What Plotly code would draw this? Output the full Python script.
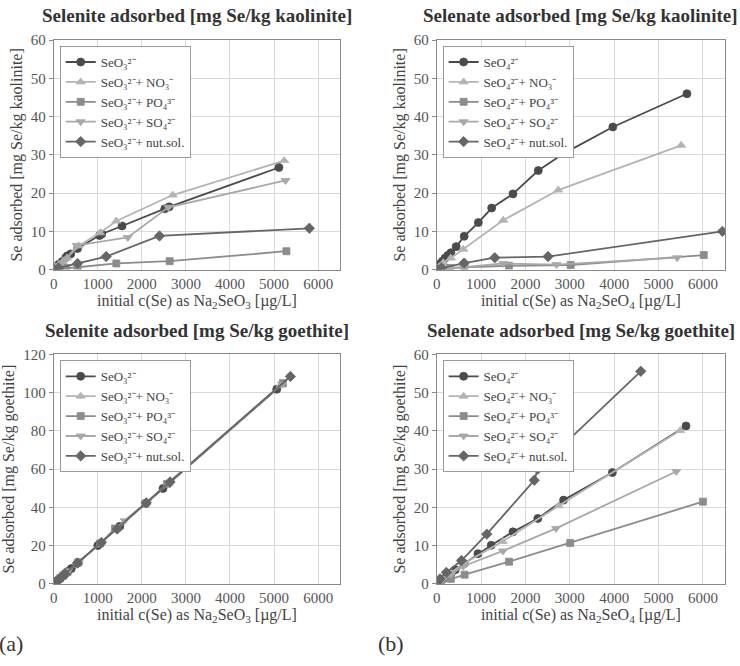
import plotly.graph_objects as go

# ---- Selenite on kaolinite ----
k3_se_x = [0, 60, 115, 190, 270, 310, 385, 540, 1040, 1090, 1550, 2520, 2620, 5110]
k3_se_y = [0.2, 0.8, 1.4, 2.1, 3.1, 3.6, 4.1, 5.5, 8.9, 9.3, 11.4, 15.9, 16.4, 26.7]
k3_no3_x = [0, 60, 120, 200, 300, 560, 1050, 1420, 2700, 5230]
k3_no3_y = [0.1, 0.6, 1.2, 2.0, 3.0, 6.2, 9.6, 12.7, 19.5, 28.5]
k3_po4_x = [0, 100, 280, 540, 1420, 2630, 5280]
k3_po4_y = [0.0, 0.2, 0.4, 0.6, 1.6, 2.2, 4.8]
k3_so4_x = [0, 50, 110, 190, 280, 520, 1680, 2600, 5260]
k3_so4_y = [0.1, 0.5, 1.1, 1.8, 2.7, 6.3, 8.4, 16.3, 23.3]
k3_nut_x = [0, 110, 540, 1190, 2400, 5800]
k3_nut_y = [0.0, 0.4, 1.6, 3.4, 8.8, 10.8]

# ---- Selenate on kaolinite ----
k4_se_x = [0, 40, 80, 130, 190, 250, 320, 440, 620, 940, 1240, 1720, 2290, 2870, 3970, 5640]
k4_se_y = [0.2, 0.8, 1.5, 2.2, 3.0, 3.7, 4.4, 6.0, 8.7, 12.3, 16.1, 19.8, 25.9, 30.4, 37.3, 46.0]
k4_no3_x = [0, 60, 150, 320, 600, 1500, 2740, 5510]
k4_no3_y = [0.1, 0.8, 1.8, 3.0, 5.3, 12.9, 20.8, 32.5]
k4_po4_x = [0, 100, 300, 620, 1630, 3020, 6020]
k4_po4_y = [0.0, 0.2, 0.4, 0.6, 1.0, 1.2, 3.8]
k4_so4_x = [0, 100, 300, 620, 1500, 2700, 5420]
k4_so4_y = [0.0, 0.2, 0.4, 0.6, 1.6, 1.3, 3.1]
k4_nut_x = [0, 110, 620, 1310, 2510, 6440]
k4_nut_y = [0.0, 0.4, 1.7, 3.1, 3.4, 10.0]

# ---- Selenite on goethite ----
g3_se_x = [0, 30, 60, 100, 150, 200, 260, 320, 400, 540, 1000, 1500, 2090, 2480, 5060]
g3_se_y = [0, 0.6, 1.2, 2.0, 3.0, 4.0, 5.3, 6.5, 8.0, 10.8, 20.0, 30.1, 42.1, 49.9, 101.8]
g3_no3_x = [0, 60, 120, 200, 300, 550, 1070, 1420, 2100, 2600, 5150]
g3_no3_y = [0, 1.2, 2.4, 4.0, 6.0, 11.1, 21.3, 28.4, 42.5, 52.3, 104.0]
g3_po4_x = [0, 70, 140, 220, 310, 560, 1050, 1390, 2080, 2570, 5200]
g3_po4_y = [0, 1.4, 2.8, 4.4, 6.2, 11.3, 21.1, 28.9, 42.0, 52.3, 105.0]
g3_so4_x = [0, 80, 160, 240, 320, 570, 1090, 1610, 2120, 2630, 5180]
g3_so4_y = [0, 1.6, 3.2, 4.8, 6.4, 11.5, 21.9, 33.0, 42.8, 52.9, 104.5]
g3_nut_x = [0, 50, 110, 180, 260, 540, 1080, 1440, 2100, 2640, 5370]
g3_nut_y = [0, 1.0, 2.2, 3.6, 5.2, 10.9, 21.6, 28.7, 42.4, 53.3, 108.5]

# ---- Selenate on goethite ----
g4_se_x = [0, 40, 90, 150, 230, 330, 420, 620, 930, 1230, 1720, 2280, 2860, 3960, 5620]
g4_se_y = [0.2, 0.5, 0.9, 1.3, 1.9, 2.8, 3.7, 5.3, 7.9, 10.1, 13.6, 17.1, 21.9, 29.1, 41.3]
g4_no3_x = [0, 60, 150, 320, 620, 1490, 2750, 5490]
g4_no3_y = [0.2, 0.6, 1.4, 2.9, 5.4, 11.1, 20.4, 40.1]
g4_po4_x = [0, 100, 320, 630, 1630, 3010, 6000]
g4_po4_y = [0, 0.4, 1.3, 2.4, 5.8, 10.7, 21.5]
g4_so4_x = [0, 100, 320, 600, 1495, 2690, 5400]
g4_so4_y = [0, 0.8, 2.5, 4.6, 8.6, 14.5, 29.4]
g4_nut_x = [0, 75, 220, 560, 1130, 2200, 2280, 4600]
g4_nut_y = [0, 1.3, 3.0, 6.1, 13.0, 27.1, 30.0, 55.6]

titles = ["Selenite adsorbed [mg Se/kg kaolinite]", "Selenate adsorbed [mg Se/kg kaolinite]",
          "Selenite adsorbed [mg Se/kg goethite]", "Selenate adsorbed [mg Se/kg goethite]"]
ytitles = ["Se adsorbed [mg Se/kg kaolinite]", "Se adsorbed [mg Se/kg kaolinite]",
           "Se adsorbed [mg Se/kg goethite]", "Se adsorbed [mg Se/kg goethite]"]
xtitle3 = "initial c(Se) as Na<sub>2</sub>SeO<sub>3</sub> [µg/L]"
xtitle4 = "initial c(Se) as Na<sub>2</sub>SeO<sub>4</sub> [µg/L]"

names3 = ["SeO₃²⁻", "SeO₃²⁻+ NO₃⁻", "SeO₃²⁻+ PO₄³⁻", "SeO₃²⁻+ SO₄²⁻", "SeO₃²⁻+ nut.sol."]
names4 = [n.replace("SeO₃", "SeO₄") for n in names3]

colors = ["#4b4b4b", "#b4b4b4", "#8c8c8c", "#a8a8a8", "#666666"]
symbols = ["circle", "triangle-up", "square", "triangle-down", "diamond"]
sizes = [8, 8, 7, 8, 8]

panels = [
    ([(k3_se_x, k3_se_y), (k3_no3_x, k3_no3_y), (k3_po4_x, k3_po4_y), (k3_so4_x, k3_so4_y), (k3_nut_x, k3_nut_y)], names3),
    ([(k4_se_x, k4_se_y), (k4_no3_x, k4_no3_y), (k4_po4_x, k4_po4_y), (k4_so4_x, k4_so4_y), (k4_nut_x, k4_nut_y)], names4),
    ([(g3_se_x, g3_se_y), (g3_no3_x, g3_no3_y), (g3_po4_x, g3_po4_y), (g3_so4_x, g3_so4_y), (g3_nut_x, g3_nut_y)], names3),
    ([(g4_se_x, g4_se_y), (g4_no3_x, g4_no3_y), (g4_po4_x, g4_po4_y), (g4_so4_x, g4_so4_y), (g4_nut_x, g4_nut_y)], names4),
]

W, H = 740, 666
FONT = "Liberation Serif"

# plot-area pixel boxes: (left, right, top, bottom)
boxes = [(50, 338, 33, 268), (435, 725, 33, 268), (50, 338, 355, 590), (435, 725, 355, 590)]
ymax = [60, 60, 120, 60]
ydt = [10, 10, 20, 10]

fig = go.Figure()
layout = dict(width=W, height=H, margin=dict(l=0, r=0, t=0, b=0),
              paper_bgcolor="white", plot_bgcolor="white",
              font=dict(family=FONT, color="#444444"), annotations=[])

for i, (series, names) in enumerate(panels):
    ax = "" if i == 0 else str(i + 1)
    leg = "legend" if i == 0 else f"legend{i + 1}"
    for j, (xs, ys) in enumerate(series):
        fig.add_trace(go.Scatter(
            x=xs, y=ys, mode="lines+markers", name=names[j],
            xaxis="x" + ax, yaxis="y" + ax, legend=leg,
            line=dict(color=colors[j], width=1.8),
            marker=dict(symbol=symbols[j], size=sizes[j], color=colors[j],
                        line=dict(color=colors[j], width=0.8)),
        ))
    l, r, t, b = boxes[i]
    xdom = [l / W, r / W]
    ydom = [(H - b) / H, (H - t) / H]
    layout["xaxis" + ax] = dict(
        domain=xdom, range=[0, 6500], dtick=1000, anchor="y" + ax,
        showgrid=True, gridcolor="#d9d9d9", gridwidth=1,
        showline=True, linecolor="#8a8a8a", mirror=True, zeroline=False,
        ticks="", tickfont=dict(family=FONT, size=15, color="#555555"),
        title=dict(text=xtitle3 if i % 2 == 0 else xtitle4, standoff=2,
                   font=dict(family=FONT, size=16, color="#444444")),
    )
    layout["yaxis" + ax] = dict(
        domain=ydom, range=[0, ymax[i]], dtick=ydt[i], anchor="x" + ax,
        showgrid=True, gridcolor="#d9d9d9", gridwidth=1,
        showline=True, linecolor="#8a8a8a", mirror=True, zeroline=False,
        ticks="outside", ticklen=4, tickcolor="#8a8a8a",
        tickfont=dict(family=FONT, size=15, color="#555555"),
        title=dict(text=ytitles[i], standoff=4, font=dict(family=FONT, size=16, color="#444444")),
    )
    layout[leg] = dict(
        x=(l + 6) / W, y=(H - t - 6) / H, xanchor="left", yanchor="top",
        bgcolor="white", bordercolor="#9a9a9a", borderwidth=1,
        font=dict(family=FONT, size=13, color="#444444"),
        tracegroupgap=0, itemwidth=30,
    )
    layout["annotations"].append(dict(
        text="<b>" + titles[i] + "</b>", xref="paper", yref="paper",
        x=(l + r) / 2 / W, y=(H - t + 12) / H, xanchor="center", yanchor="bottom",
        showarrow=False, font=dict(family=FONT, size=19, color="#333333"),
    ))

for txt, px in [("(a)", -7), ("(b)", 374)]:
    layout["annotations"].append(dict(
        text=txt, xref="paper", yref="paper", x=px / W, y=(H - 651) / H,
        xanchor="left", yanchor="middle", showarrow=False,
        font=dict(family=FONT, size=22, color="#333333"),
    ))

fig.update_layout(**layout)
fig.write_html("out.html")
